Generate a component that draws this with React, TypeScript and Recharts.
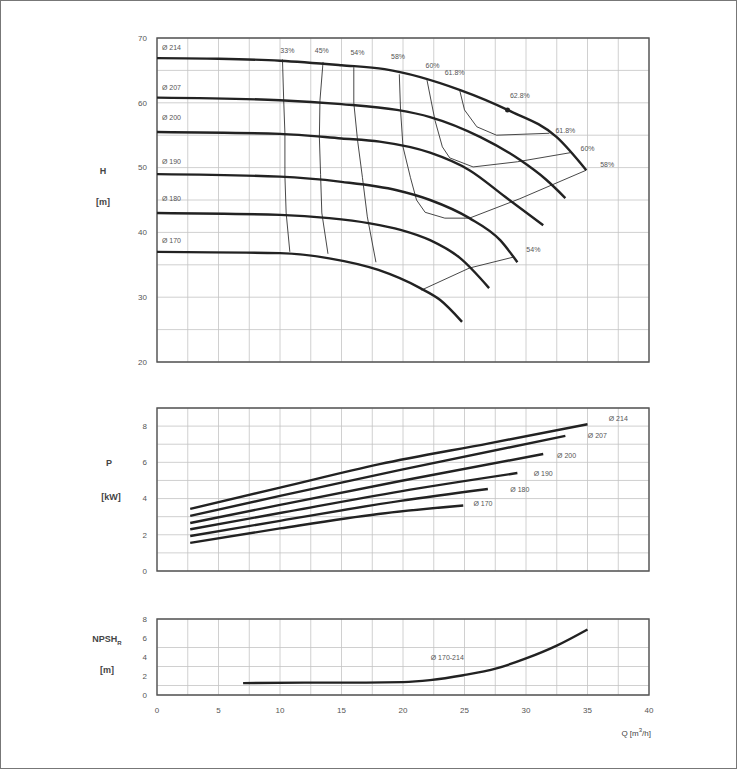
import {
  CartesianGrid,
  Line,
  LineChart,
  ReferenceArea,
  ReferenceDot,
  XAxis,
  YAxis,
} from "recharts";

// flow rate ticks (grid every 2.5, labels every 5)
const qTicks = [0, 2.5, 5, 7.5, 10, 12.5, 15, 17.5, 20, 22.5, 25, 27.5, 30, 32.5, 35, 37.5, 40];
const hTicks = [20, 25, 30, 35, 40, 45, 50, 55, 60, 65, 70];
const pTicks = [0, 1, 2, 3, 4, 5, 6, 7, 8, 9];
const nTicks = [0, 1, 2, 3, 4, 5, 6, 7, 8];

const impellers = ["Ø 214", "Ø 207", "Ø 200", "Ø 190", "Ø 180", "Ø 170"];

// head curves [Q, H]
const head214 = [[0, 66.9], [5, 66.8], [10, 66.5], [15, 65.8], [18.5, 65.2], [24.6, 62.0], [28.5, 58.9], [32.5, 54.7], [34.9, 49.6]];
const head207 = [[0, 60.8], [10, 60.4], [15, 59.8], [19.5, 58.9], [22.2, 57.8], [26.3, 54.7], [29.5, 51.2], [31.6, 48.2], [33.2, 45.3]];
const head200 = [[0, 55.5], [10, 55.2], [15, 54.5], [18.1, 54.0], [22.2, 52.3], [25.4, 49.6], [28.3, 45.5], [31.4, 41.1]];
const head190 = [[0, 49.0], [10, 48.6], [15, 47.8], [19.5, 46.5], [22.2, 45.0], [25.4, 42.2], [27.9, 38.8], [29.3, 35.4]];
const head180 = [[0, 43.0], [10, 42.7], [14, 42.2], [17.3, 41.4], [19.8, 40.4], [22.2, 38.8], [24.6, 36.1], [27.0, 31.4]];
const head170 = [[0, 37.0], [10, 36.8], [14, 36.0], [18, 34.2], [21.4, 31.4], [23, 29.6], [24.8, 26.2]];
const headCurves = [head214, head207, head200, head190, head180, head170];
const headLabelY = [68.6, 62.3, 57.7, 51.0, 45.3, 38.8];

// iso-efficiency lines [Q, H]
const eff33 = [[10.2, 66.7], [10.3, 60.4], [10.4, 55.3], [10.4, 48.7], [10.5, 43.0], [10.8, 37.0]];
const eff45 = [[13.5, 66.3], [13.25, 60.4], [13.2, 54.7], [13.3, 48.9], [13.4, 43.0], [13.9, 36.7]];
const eff54a = [[16.0, 65.5], [16.0, 60.0], [16.3, 54.3], [16.7, 48.5], [17.1, 42.4], [17.8, 35.4]];
const eff54b = [[21.5, 31.1], [25.4, 34.5], [29.0, 36.2]];
const eff58 = [[19.7, 64.4], [19.8, 58.9], [20.0, 53.2], [20.6, 48.5], [21.1, 45.0], [21.8, 43.1], [23.4, 42.2], [25.4, 42.2], [29.5, 45.2], [34.9, 49.6]];
const eff60 = [[21.95, 63.5], [22.6, 57.3], [23.2, 53.2], [23.8, 51.5], [25.7, 50.1], [29.3, 50.9], [33.6, 52.3]];
const eff618 = [[24.6, 62.0], [25.0, 58.9], [26.0, 56.3], [27.6, 55.0], [31.9, 55.3]];
const effLines = [eff33, eff45, eff54a, eff54b, eff58, eff60, eff618];
const bestPoint = [28.5, 58.9];

const effLabels = ["33%", "45%", "54%", "58%", "60%", "61.8%", "62.8%", "61.8%", "60%", "58%", "54%"];
const effLabelPos = [[10.6, 68.1], [13.4, 68.0], [16.3, 67.7], [19.6, 67.2], [22.4, 65.7], [24.2, 64.6], [29.5, 61.2], [33.2, 55.8], [35.0, 53.0], [36.6, 50.4], [30.6, 37.3]];

// power curves [Q, P]
const power214 = [[2.7, 3.43], [10, 4.6], [18.1, 5.9], [27, 7.05], [35, 8.1]];
const power207 = [[2.7, 3.04], [10, 4.15], [19.8, 5.58], [33.2, 7.46]];
const power200 = [[2.7, 2.65], [10, 3.65], [19.8, 4.97], [31.4, 6.46]];
const power190 = [[2.7, 2.3], [10, 3.2], [19.8, 4.4], [29.3, 5.41]];
const power180 = [[2.7, 1.93], [10, 2.77], [19.8, 3.87], [26.9, 4.53]];
const power170 = [[2.7, 1.55], [10, 2.35], [18, 3.15], [24.9, 3.62]];
const powerCurves = [power214, power207, power200, power190, power180, power170];
const powerLabelPos = [[37.5, 8.4], [35.8, 7.46], [33.3, 6.35], [31.4, 5.4], [29.5, 4.5], [26.5, 3.7]];

// NPSHr curve [Q, NPSH]
const npsh = [[7, 1.25], [12, 1.3], [17, 1.3], [20, 1.35], [22.2, 1.56], [24.9, 2.08], [27.6, 2.8], [30, 3.85], [32.5, 5.2], [35, 6.9]];

const pts = (arr: number[][]) => arr.map(([x, y]) => ({ x, y }));

const font = '"Liberation Sans", Arial, sans-serif';
const tickStyle = { fontSize: 8, fill: "#555", fontFamily: font };
const gridColor = "#c4c4c4";
const curveColor = "#222";
const labelStyle = { fontSize: 7, fill: "#555", fontFamily: font };

const onlyMultiples = (step: number) => (v: number) => (v % step === 0 ? String(v) : "");
const blank = () => "";

function Title({ x, y, children }: { x: number; y: number; children: any }) {
  return (
    <div
      style={{
        position: "absolute",
        left: x - 30,
        top: y - 6,
        width: 60,
        textAlign: "center",
        fontSize: 9,
        fontWeight: "bold",
        color: "#444",
        lineHeight: "12px",
      }}
    >
      {children}
    </div>
  );
}

export default function App() {
  const W = 737;
  return (
    <div
      style={{
        position: "relative",
        width: W,
        height: 769,
        border: "1px solid #777",
        boxSizing: "border-box",
        background: "#fff",
        fontFamily: font,
        overflow: "hidden",
      }}
    >
      <style>{"body{margin:0}"}</style>

      {/* head chart */}
      <div style={{ position: "absolute", left: -1, top: -1 }}>
        <LineChart width={W} height={380} margin={{ top: 38, right: 88, bottom: 18, left: 127 }}>
          <CartesianGrid stroke={gridColor} strokeWidth={0.8} />
          <XAxis type="number" dataKey="x" domain={[0, 40]} ticks={qTicks} height={0} tickFormatter={blank} tick={tickStyle} axisLine={false} tickLine={false} allowDataOverflow />
          <YAxis type="number" domain={[20, 70]} ticks={hTicks} width={30} tickFormatter={onlyMultiples(10)} tick={tickStyle} tickLine={false} axisLine={false} tickSize={0} tickMargin={10} />
          <ReferenceArea x1={0} x2={40} y1={20} y2={70} fill="none" stroke="#555" strokeWidth={1.4} />
          {effLines.map((d, i) => (
            <Line key={"e" + i} data={pts(d)} dataKey="y" type="linear" stroke="#333" strokeWidth={0.9} dot={false} isAnimationActive={false} />
          ))}
          {headCurves.map((d, i) => (
            <Line key={"h" + i} data={pts(d)} dataKey="y" type="monotone" stroke={curveColor} strokeWidth={2.4} dot={false} isAnimationActive={false} />
          ))}
          <ReferenceDot x={bestPoint[0]} y={bestPoint[1]} r={2.5} fill={curveColor} stroke="none" />
          {impellers.map((name, i) => (
            <ReferenceDot key={"hl" + i} x={0.4} y={headLabelY[i]} r={0} fill="none" stroke="none" label={{ value: name, position: "right", offset: 0, ...labelStyle }} />
          ))}
          {effLabels.map((t, i) => (
            <ReferenceDot key={"el" + i} x={effLabelPos[i][0]} y={effLabelPos[i][1]} r={0} fill="none" stroke="none" label={{ value: t, position: "center", ...labelStyle }} />
          ))}
        </LineChart>
      </div>

      {/* power chart */}
      <div style={{ position: "absolute", left: -1, top: 389 }}>
        <LineChart width={W} height={200} margin={{ top: 18, right: 88, bottom: 19, left: 127 }}>
          <CartesianGrid stroke={gridColor} strokeWidth={0.8} />
          <XAxis type="number" dataKey="x" domain={[0, 40]} ticks={qTicks} height={0} tickFormatter={blank} tick={tickStyle} axisLine={false} tickLine={false} allowDataOverflow />
          <YAxis type="number" domain={[0, 9]} ticks={pTicks} width={30} tickFormatter={onlyMultiples(2)} tick={tickStyle} tickLine={false} axisLine={false} tickSize={0} tickMargin={10} />
          <ReferenceArea x1={0} x2={40} y1={0} y2={9} fill="none" stroke="#555" strokeWidth={1.4} />
          {powerCurves.map((d, i) => (
            <Line key={"p" + i} data={pts(d)} dataKey="y" type="monotone" stroke={curveColor} strokeWidth={2.4} dot={false} isAnimationActive={false} />
          ))}
          {impellers.map((name, i) => (
            <ReferenceDot key={"pl" + i} x={powerLabelPos[i][0]} y={powerLabelPos[i][1]} r={0} fill="none" stroke="none" label={{ value: name, position: "center", ...labelStyle }} />
          ))}
        </LineChart>
      </div>

      {/* NPSH chart */}
      <div style={{ position: "absolute", left: -1, top: 599 }}>
        <LineChart width={W} height={130} margin={{ top: 19, right: 88, bottom: 5, left: 127 }}>
          <CartesianGrid stroke={gridColor} strokeWidth={0.8} />
          <XAxis type="number" dataKey="x" domain={[0, 40]} ticks={qTicks} height={30} tickFormatter={onlyMultiples(5)} tick={tickStyle} axisLine={false} tickLine={false} tickSize={0} tickMargin={12} allowDataOverflow />
          <YAxis type="number" domain={[0, 8]} ticks={nTicks} width={30} tickFormatter={onlyMultiples(2)} tick={tickStyle} tickLine={false} axisLine={false} tickSize={0} tickMargin={10} />
          <ReferenceArea x1={0} x2={40} y1={0} y2={8} fill="none" stroke="#555" strokeWidth={1.4} />
          <Line data={pts(npsh)} dataKey="y" type="monotone" stroke={curveColor} strokeWidth={2.4} dot={false} isAnimationActive={false} />
          <ReferenceDot x={23.6} y={3.95} r={0} fill="none" stroke="none" label={{ value: "Ø 170-214", position: "center", ...labelStyle }} />
        </LineChart>
      </div>

      <Title x={102} y={170}>H</Title>
      <Title x={102} y={201}>[m]</Title>
      <Title x={108} y={462}>P</Title>
      <Title x={110} y={496}>[kW]</Title>
      <Title x={106} y={638}>NPSH<sub style={{ fontSize: 6 }}>R</sub></Title>
      <Title x={106} y={669}>[m]</Title>
      <div style={{ position: "absolute", left: 600, top: 726, width: 50, textAlign: "right", fontSize: 8, color: "#444" }}>
        Q [m<sup style={{ fontSize: 6 }}>3</sup>/h]
      </div>
    </div>
  );
}
